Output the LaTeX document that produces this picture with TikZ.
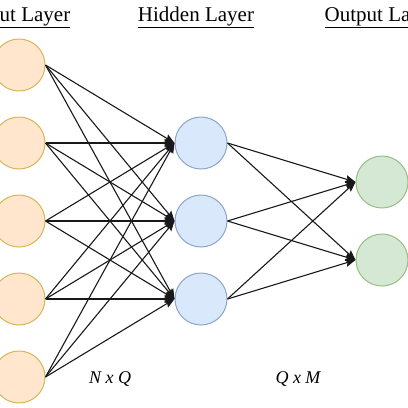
\documentclass[tikz,border=0pt]{standalone}
\usepackage{fontspec}
\setmainfont{Liberation Serif}
\usetikzlibrary{positioning,calc,arrows.meta}

\definecolor{infill}{HTML}{FFE6CC}
\definecolor{indraw}{HTML}{D6B656}
\definecolor{hidfill}{HTML}{DAE8FC}
\definecolor{hiddraw}{HTML}{8CA6C9}
\definecolor{outfill}{HTML}{D5E8D4}
\definecolor{outdraw}{HTML}{97BF85}

\begin{document}
\begin{tikzpicture}[x=1pt,y=-1pt,
    neuron/.style={circle,draw,line width=1pt,minimum size=52pt,inner sep=0pt},
    conn/.style={-{Stealth[length=10pt,width=8pt,inset=1.5pt]},line width=1.1pt,black!90},
    title/.style={anchor=base,font=\fontsize{21}{25}\selectfont},
    dims/.style={anchor=base,font=\fontsize{18}{21}\selectfont\itshape}]

    \useasboundingbox (0,0) rectangle (408,408);

    % layer titles
    \node[title] (tin) at (21,21) {\underline{Input Layer}};
    \node[title] (thid) at (196,21) {\underline{Hidden Layer}};
    \node[title] (tout) at (381,21) {\underline{Output Layer}};

    % neurons
    \foreach \i/\yy in {1/65,2/143,3/221,4/299,5/377}{
        \node[neuron,fill=infill,draw=indraw] (in\i) at (19,\yy) {};
    }
    \foreach \i/\yy in {1/143,2/221,3/299}{
        \node[neuron,fill=hidfill,draw=hiddraw] (hid\i) at (201,\yy) {};
    }
    \foreach \i/\yy in {1/182,2/260}{
        \node[neuron,fill=outfill,draw=outdraw] (out\i) at (382,\yy) {};
    }

    % weights
    \foreach \i in {1,...,5}{
        \foreach \j in {1,2,3}{
            \draw[conn] (in\i.east) -- (hid\j.west);
        }
    }
    \foreach \i in {1,2,3}{
        \foreach \j in {1,2}{
            \draw[conn] (hid\i.east) -- (out\j.west);
        }
    }

    \node[dims] (nq) at (110,383) {N x Q};
    \node[dims] (qm) at (298,383) {Q x M};

\end{tikzpicture}
\end{document}
